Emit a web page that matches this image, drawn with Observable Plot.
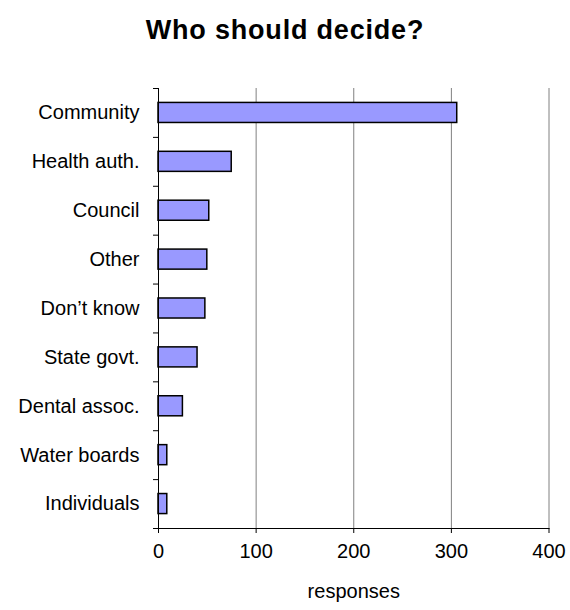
<!DOCTYPE html>
<html>
<head>
<meta charset="utf-8">
<script src="https://cdn.jsdelivr.net/npm/d3@7"></script>
<script src="https://cdn.jsdelivr.net/npm/@observablehq/plot@0.6"></script>
<style>
  html, body { margin: 0; padding: 0; background: #fff; }
  #wrap { position: relative; width: 570px; height: 610px; }
  #title { position: absolute; left: 0; top: 17px; width: 570px; text-align: center;
    font: bold 27px Arial, "Liberation Sans", sans-serif; line-height: 27px; letter-spacing: 0.8px; color: #000; }
  #chart { position: absolute; left: 0; top: 0; }
</style>
</head>
<body>
<div id="wrap">
  <div id="chart"></div>
  <div id="title">Who should decide?</div>
</div>
<script>
const categories = ["Community", "Health auth.", "Council", "Other", "Don’t know", "State govt.", "Dental assoc.", "Water boards", "Individuals"];
const values = [306, 75, 52, 50, 48, 40, 25, 9, 9];
const xTicks = [0, 100, 200, 300, 400];
const gridTicks = [100, 200, 300, 400];
const xLabel = "responses";

const data = categories.map((c, i) => ({category: c, value: values[i]}));

const W = 570, H = 610, mTop = 88, mBottom = 82, mLeft = 158, mRight = 21.5;
const step = (H - mTop - mBottom) / categories.length;

const chart = Plot.plot({
  width: W,
  height: H,
  marginTop: mTop,
  marginBottom: mBottom,
  marginLeft: mLeft,
  marginRight: mRight,
  style: {fontFamily: "Arial, 'Liberation Sans', sans-serif", fontSize: "20px", color: "#000", background: "#fff"},
  x: {domain: [0, 400]},
  y: {domain: categories, paddingInner: 0.59, paddingOuter: 0.295, round: false},
  marks: [
    Plot.gridX(gridTicks, {stroke: "#808080", strokeOpacity: 1, strokeWidth: 1}),
    Plot.barX(data, {x: "value", y: "category", fill: "#9999ff", stroke: "#000", strokeWidth: 1.5}),
    Plot.frame({anchor: "left", stroke: "#000"}),
    Plot.frame({anchor: "bottom", stroke: "#000"}),
    Plot.axisX(xTicks, {tickSize: 5, tickPadding: 10, label: null, fontSize: 20}),
    Plot.text([xLabel], {frameAnchor: "bottom", textAnchor: "middle", lineAnchor: "middle", dy: 63, fontSize: 20}),
    Plot.axisY({tickSize: 0, tickPadding: 19, label: null, fontSize: 20}),
    Plot.axisY({tickSize: 5, tickFormat: () => "", label: null, dy: -step / 2}),
    Plot.axisY([categories[categories.length - 1]], {tickSize: 5, tickFormat: () => "", label: null, dy: step / 2})
  ]
});
document.getElementById("chart").appendChild(chart);
</script>
</body>
</html>
